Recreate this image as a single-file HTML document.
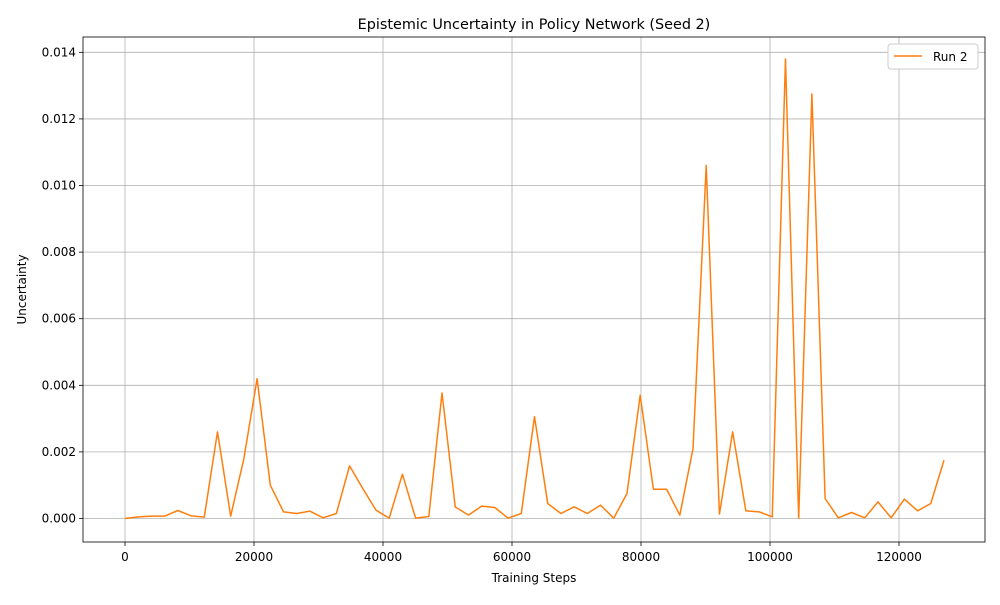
<!DOCTYPE html>
<html><head><meta charset="utf-8"><style>
body{margin:0;background:#fff;font-family:"Liberation Sans","DejaVu Sans",sans-serif}
svg text{font-family:"DejaVu Sans","Liberation Sans",sans-serif}
</style></head><body>
<svg id="c" width="1000" height="600"></svg>
<script>
const stepSize = 2048;
const uncertainty = [0,0.00005,0.00007,0.00007,0.00024,0.00008,0.00004,0.0026,0.00007,0.0018,0.0042,0.001,0.0002,0.00015,0.00022,0.00002,0.00015,0.00158,0.0009,0.00025,0.00001,0.00133,0.00001,0.00006,0.00377,0.00035,0.0001,0.00037,0.00033,0.00001,0.00015,0.00306,0.00045,0.00015,0.00035,0.00015,0.0004,0.00001,0.00075,0.0037,0.00088,0.00088,0.0001,0.0021,0.0106,0.00013,0.0026,0.00023,0.0002,0.00005,0.0138,0.00001,0.01275,0.0006,0.00002,0.00018,0.00002,0.0005,0.00002,0.00058,0.00023,0.00045,0.00175];
const xTicks = [0,20000,40000,60000,80000,100000,120000];
const yTicks = [0,0.002,0.004,0.006,0.008,0.010,0.012,0.014];
const L=83,R=985,T=37,B=542;
const xMin=-6512,xMax=133333,yMin=-0.000706,yMax=0.01446;
const sx=v=>L+(v-xMin)/(xMax-xMin)*(R-L);
const sy=v=>B-(v-yMin)/(yMax-yMin)*(B-T);
const svg=document.getElementById('c');
const NS='http://www.w3.org/2000/svg';
function mk(t,a,txt){const e=document.createElementNS(NS,t);for(const k in a)e.setAttribute(k,a[k]);if(txt!=null)e.textContent=txt;svg.appendChild(e);return e;}
xTicks.forEach(v=>{const x=sx(v);
 let g=mk('line',{x1:x,x2:x,y1:T,y2:B,stroke:'#b0b0b0','stroke-width':0.8});
 
 
 let t=mk('line',{x1:x,x2:x,y1:B,y2:B+4,stroke:'#000','stroke-width':0.8});
 
 
 let l=mk('text',{x:x,y:B+19,'text-anchor':'middle','font-size':12},String(v));
 
 
});
yTicks.forEach(v=>{const y=sy(v);
 let g=mk('line',{x1:L,x2:R,y1:y,y2:y,stroke:'#b0b0b0','stroke-width':0.8});
 
 
 let t=mk('line',{x1:L-4,x2:L,y1:y,y2:y,stroke:'#000','stroke-width':0.8});
 
 
 let l=mk('text',{x:L-7,y:y+4,'text-anchor':'end','font-size':12},v.toFixed(3));
 
 
});
const pts=uncertainty.map((v,i)=>sx(i*stepSize).toFixed(2)+','+sy(v).toFixed(2)).join(' ');
let line=mk('polyline',{points:pts,fill:'none',stroke:'#ff7f0e','stroke-width':1.5,'stroke-linejoin':'round'});


let fr=mk('rect',{x:L,y:T,width:R-L,height:B-T,fill:'none',stroke:'#000','stroke-width':0.8});


let ti=mk('text',{x:(L+R)/2,y:29,'text-anchor':'middle','font-size':14.4},'Epistemic Uncertainty in Policy Network (Seed 2)');


let xl=mk('text',{x:(L+R)/2,y:582,'text-anchor':'middle','font-size':12},'Training Steps');


let yl=mk('text',{x:26,y:(T+B)/2,'text-anchor':'middle','font-size':12,transform:`rotate(-90 26 ${(T+B)/2})`},'Uncertainty');


let lg=mk('rect',{x:888,y:44,width:90,height:25,fill:'#fff',stroke:'#ccc','stroke-width':1,rx:3});


let ll=mk('line',{x1:894,x2:922,y1:56,y2:56,stroke:'#ff7f0e','stroke-width':1.5});


let lt=mk('text',{x:933,y:61,'font-size':12},'Run 2');


</script>
</body></html>
